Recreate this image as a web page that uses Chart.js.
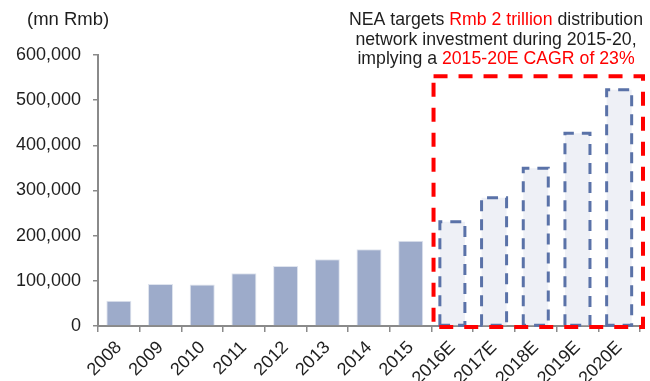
<!DOCTYPE html>
<html>
<head>
<meta charset="utf-8">
<script src="https://cdn.jsdelivr.net/npm/chart.js@4/dist/chart.umd.min.js"></script>
<style>
  html, body { margin: 0; padding: 0; background: #fff; overflow: hidden; }
  #wrap { width: 650px; height: 381px; position: relative; }
</style>
</head>
<body>
<div id="wrap"><canvas id="c" width="650" height="381"></canvas></div>
<script>
// Distribution network investment, mn Rmb
const years = ['2008', '2009', '2010', '2011', '2012', '2013', '2014', '2015',
               '2016E', '2017E', '2018E', '2019E', '2020E'];
const actualValues = [56000, 93000, 92000, 117000, 133000, 148000, 170000, 189000,
                      null, null, null, null, null];
const forecastValues = [null, null, null, null, null, null, null, null,
                        231000, 284000, 349000, 427000, 523000];
const yMax = 600000;
const yStep = 100000;
const unitLabel = '(mn Rmb)';
// Highlight box around the forecast period reaches up to this value
const boxTopValue = 553000;
const noteLines = [
  [['NEA targets ', 'dark'], ['Rmb 2 trillion', 'red'], [' distribution', 'dark']],
  [['network investment during 2015-20,', 'dark']],
  [['implying a ', 'dark'], ['2015-20E CAGR of 23%', 'red']]
];

const FONT = '"Liberation Sans", Arial, Helvetica, sans-serif';
const DARK = '#1e1e1e';
const RED = '#ff0000';
const AXIS = '#8a8a8a';

const fmt = v => v.toString().replace(/\B(?=(\d{3})+(?!\d))/g, ',');

const overlay = {
  id: 'overlay',
  afterDatasetsDraw(chart) {
    const ctx = chart.ctx;
    const meta = chart.getDatasetMeta(1);
    ctx.save();
    ctx.strokeStyle = '#5a72a8';
    ctx.lineWidth = 3;
    ctx.setLineDash([11, 8]);
    meta.data.forEach((bar, i) => {
      if (forecastValues[i] == null) return;
      const p = bar.getProps(['x', 'y', 'base', 'width'], true);
      const l = p.x - p.width / 2, r = p.x + p.width / 2;
      ctx.beginPath();
      ctx.moveTo(l, p.base);
      ctx.lineTo(l, p.y);
      ctx.lineTo(r, p.y);
      ctx.lineTo(r, p.base);
      ctx.closePath();
      ctx.stroke();
    });
    ctx.restore();
  },
  afterDraw(chart) {
    const ctx = chart.ctx;
    const xs = chart.scales.x, ys = chart.scales.y;
    const area = chart.chartArea;

    // red dashed frame around the forecast years
    const left = (xs.getPixelForValue(7) + xs.getPixelForValue(8)) / 2 + 2;
    const right = area.right + 3;
    const top = ys.getPixelForValue(boxTopValue);
    const bottom = ys.getPixelForValue(0) + 1;
    ctx.save();
    ctx.strokeStyle = RED;
    ctx.lineWidth = 4;
    ctx.setLineDash([14, 11]);
    ctx.beginPath();
    ctx.moveTo(left, top);
    ctx.lineTo(right, top);
    ctx.lineTo(right, bottom);
    ctx.lineTo(left, bottom);
    ctx.closePath();
    ctx.stroke();
    ctx.restore();

    // unit label
    ctx.save();
    ctx.font = '18.5px ' + FONT;
    ctx.fillStyle = DARK;
    ctx.textBaseline = 'alphabetic';
    ctx.textAlign = 'left';
    ctx.fillText(unitLabel, 27, 25);
    ctx.restore();

    // note above the frame, centred, mixed colours
    ctx.save();
    ctx.font = '17.7px ' + FONT;
    ctx.textBaseline = 'alphabetic';
    ctx.textAlign = 'left';
    const cx = 496;
    const baselines = [25, 44.5, 64];
    noteLines.forEach((parts, li) => {
      const total = parts.reduce((s, p) => s + ctx.measureText(p[0]).width, 0);
      let x = cx - total / 2;
      parts.forEach(([txt, c]) => {
        ctx.fillStyle = c === 'red' ? RED : DARK;
        ctx.fillText(txt, x, baselines[li]);
        x += ctx.measureText(txt).width;
      });
    });
    ctx.restore();
  }
};

new Chart(document.getElementById('c'), {
  type: 'bar',
  data: {
    labels: years,
    datasets: [
      {
        label: 'Actual',
        data: actualValues,
        backgroundColor: '#9dabca',
        borderColor: '#dfe4ee',
        borderWidth: 1,
        grouped: false,
        barPercentage: 0.6,
        categoryPercentage: 1.0
      },
      {
        label: 'Target',
        data: forecastValues,
        backgroundColor: '#eef0f6',
        borderWidth: 0,
        grouped: false,
        barPercentage: 0.6,
        categoryPercentage: 1.0
      }
    ]
  },
  options: {
    responsive: false,
    animation: false,
    layout: { padding: { top: 55, right: 10, left: 0, bottom: 0 } },
    plugins: { legend: { display: false }, tooltip: { enabled: false }, title: { display: false } },
    scales: {
      x: {
        grid: { display: true, drawOnChartArea: false, offset: true, tickLength: 6, color: AXIS, lineWidth: 1.5 },
        border: { display: true, color: AXIS, width: 2 },
        ticks: {
          color: DARK,
          font: { family: FONT, size: 18 },
          minRotation: 45,
          maxRotation: 45,
          padding: 5,
          autoSkip: false
        },
        afterFit(scale) { scale.height = 55; }
      },
      y: {
        min: 0,
        max: yMax,
        grid: { display: true, drawOnChartArea: false, tickLength: 5, color: AXIS, lineWidth: 1.5 },
        border: { display: true, color: AXIS, width: 2 },
        ticks: {
          stepSize: yStep,
          color: DARK,
          font: { family: FONT, size: 18 },
          padding: 12,
          callback: v => fmt(v)
        },
        afterFit(scale) { scale.width = 98; }
      }
    }
  },
  plugins: [overlay]
});
</script>
</body>
</html>
